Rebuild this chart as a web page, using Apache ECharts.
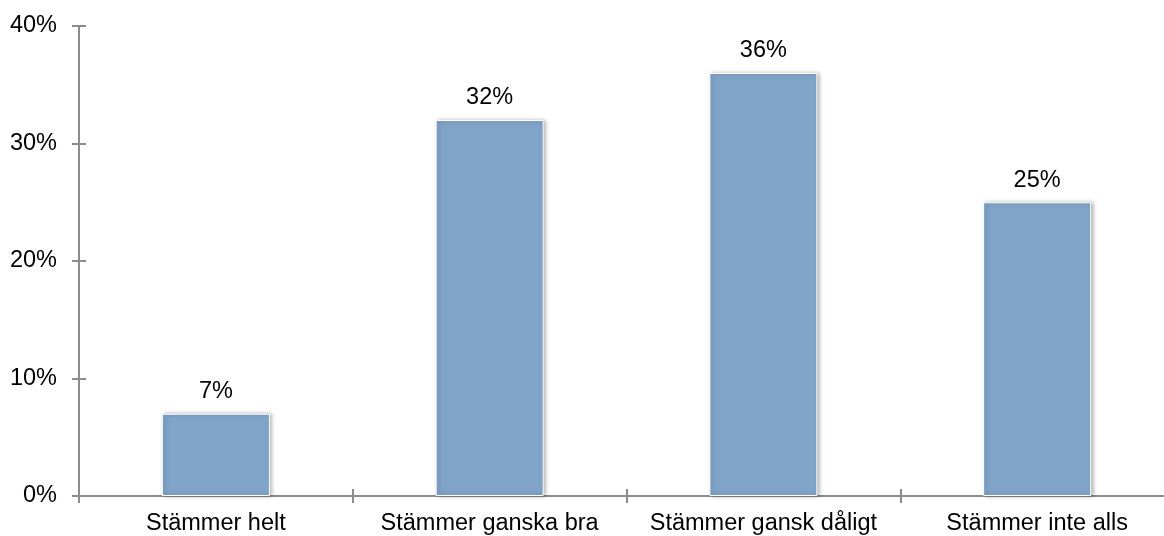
<!DOCTYPE html>
<html>
<head>
<meta charset="utf-8">
<script src="https://cdn.jsdelivr.net/npm/echarts@6/dist/echarts.min.js"></script>
<style>
  html, body { margin: 0; padding: 0; background: #fff; }
  #chart { width: 1164px; height: 536px; }
</style>
</head>
<body>
<div id="chart"></div>
<script>
// svar per kategori (andel i %)
const categories = ['Stämmer helt', 'Stämmer ganska bra', 'Stämmer gansk dåligt', 'Stämmer inte alls']
const shares = [7, 32, 36, 25]
const yTicks = [0, 10, 20, 30, 40]

const axisGray = '#8c8c8c'
const font = 'Liberation Sans, Arial, sans-serif'
const textSize = 23.5

const chart = echarts.init(document.getElementById('chart'))
chart.setOption({
  animation: false,
  // axeln fortsätter något utanför bildens högerkant
  grid: { left: 79, width: 1095, top: 26, height: 470, outerBoundsMode: 'none', containLabel: false },
  xAxis: [
    {
      type: 'category',
      data: categories,
      axisLine: { lineStyle: { color: axisGray, width: 2 } },
      axisTick: { show: true, length: 7, lineStyle: { color: axisGray, width: 2 } },
      axisLabel: { color: '#000', fontSize: textSize, fontFamily: font, margin: 16, interval: 0 }
    },
    {
      // inre halvan av korsande tickmarkeringar
      type: 'category',
      data: categories,
      position: 'bottom',
      axisLine: { show: false },
      axisTick: { show: true, inside: true, length: 7, lineStyle: { color: axisGray, width: 2 } },
      axisLabel: { show: false }
    }
  ],
  yAxis: [
    {
      type: 'value',
      min: yTicks[0],
      max: yTicks[yTicks.length - 1],
      interval: 10,
      splitLine: { show: false },
      axisLine: { show: true, lineStyle: { color: axisGray, width: 2 } },
      axisTick: { show: true, length: 7, lineStyle: { color: axisGray, width: 2 } },
      axisLabel: { color: '#000', fontSize: textSize, fontFamily: font, margin: 22, formatter: '{value}%' }
    },
    {
      type: 'value',
      min: yTicks[0],
      max: yTicks[yTicks.length - 1],
      interval: 10,
      position: 'left',
      splitLine: { show: false },
      axisLine: { show: false },
      axisTick: { show: true, inside: true, length: 7, lineStyle: { color: axisGray, width: 2 } },
      axisLabel: { show: false }
    }
  ],
  series: [
    {
      type: 'bar',
      data: shares,
      barWidth: 108,
      itemStyle: {
        color: '#80a4c8',
        borderColor: '#ffffff',
        borderWidth: 1,
        shadowColor: 'rgba(0, 0, 0, 0.3)',
        shadowBlur: 4,
        shadowOffsetX: 2,
        shadowOffsetY: 0
      },
      label: {
        show: true,
        position: 'top',
        distance: 10,
        color: '#000',
        fontSize: textSize,
        fontFamily: font,
        formatter: '{c}%'
      }
    }
  ]
})
</script>
</body>
</html>
